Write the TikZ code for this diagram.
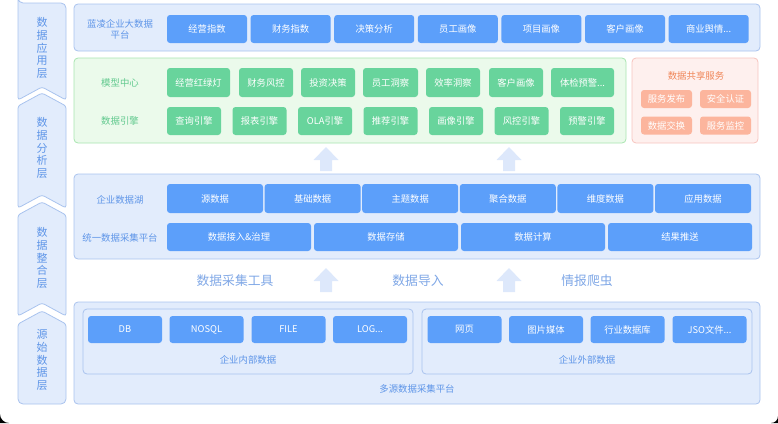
\documentclass[tikz,border=0pt]{standalone}
\usepackage{fontspec}
\setmainfont{Noto Sans CJK SC}
\definecolor{panelfill}{HTML}{E2ECFC}
\definecolor{panelline}{HTML}{A9C3EE}
\definecolor{btnblue}{HTML}{5C9FFA}
\definecolor{lblblue}{HTML}{5E95E8}
\definecolor{midblue}{HTML}{7FA7E6}
\definecolor{greenfill}{HTML}{EBFAEB}
\definecolor{greenline}{HTML}{A8E6B0}
\definecolor{btngreen}{HTML}{68D49C}
\definecolor{lblgreen}{HTML}{61C98E}
\definecolor{redfill}{HTML}{FEF0EE}
\definecolor{redline}{HTML}{F7C4BE}
\definecolor{btnred}{HTML}{FCB59D}
\definecolor{lblred}{HTML}{F0875A}
\definecolor{arrowblue}{HTML}{DDE8FB}
\tikzset{
  panel/.style={draw=panelline, fill=panelfill, rounded corners=4pt, inner sep=0pt, line width=0.8pt},
  gpanel/.style={draw=greenline, fill=greenfill, rounded corners=4pt, inner sep=0pt, line width=0.8pt},
  rpanel/.style={draw=redline, fill=redfill, rounded corners=4pt, inner sep=0pt, line width=0.8pt},
  btn/.style={fill=btnblue, rounded corners=3pt, inner sep=0pt, text=white, font=\fontsize{9.3}{11}\selectfont},
  gbtn/.style={btn, fill=btngreen},
  rbtn/.style={btn, fill=btnred, minimum width=51pt, minimum height=18pt},
  lbl/.style={text=lblblue, align=center, font=\fontsize{9.4}{11}\selectfont},
  glbl/.style={lbl, text=lblgreen},
  midlbl/.style={text=midblue, font=\fontsize{12.8}{14}\selectfont},
  tab/.style={draw=panelline, fill=panelfill, line width=0.8pt, rounded corners=2.5pt},
  tablbl/.style={text=lblblue, align=center, font=\fontsize{11}{12.8}\selectfont},
  uparrow/.style={fill=arrowblue}
}
\begin{document}
\begin{tikzpicture}[x=1pt,y=-1pt]
\useasboundingbox (0,0) rectangle (778,423);
% dark window corners at the bottom
\fill[black] (0,414) .. controls (0,419) and (4,423) .. (9,423) -- (0,423) -- cycle;
\fill[black] (778,416) .. controls (778,420) and (775,423) .. (771,423) -- (778,423) -- cycle;
% layer tabs on the left
\draw[tab] (18,100) -- (18,3) [rounded corners=5pt] -- (18,3) -- (66,3) [rounded corners=2.5pt] -- (66,100) -- (42,87) -- cycle;
\draw[tab] (18,106) -- (42,93) -- (66,106) -- (66,208) -- (42,195) -- (18,208) -- cycle;
\draw[tab] (18,215) -- (42,202) -- (66,215) -- (66,316) -- (42,303) -- (18,316) -- cycle;
\draw[tab] (18,324) -- (42,311) -- (66,324) [rounded corners=5pt] -- (66,404) -- (18,404) [rounded corners=2.5pt] -- cycle;
\node[tablbl] (t1) at (42,48) {数\\据\\应\\用\\层};
\node[tablbl] (t2) at (42,148) {数\\据\\分\\析\\层};
\node[tablbl] (t3) at (42,258) {数\\据\\整\\合\\层};
\node[tablbl] (t4) at (42,360) {源\\始\\数\\据\\层};
% application layer
\node[panel, minimum width=686pt, minimum height=47pt] (app) at (417,27.5) {};
\node[lbl] (appname) at (120,29) {蓝凌企业大数据\\平台};
\node[btn, minimum width=80pt, minimum height=28pt] (a1) at (207,29) {经营指数};
\node[btn, minimum width=80pt, minimum height=28pt] (a2) at (290.6,29) {财务指数};
\node[btn, minimum width=80pt, minimum height=28pt] (a3) at (374.2,29) {决策分析};
\node[btn, minimum width=80pt, minimum height=28pt] (a4) at (457.8,29) {员工画像};
\node[btn, minimum width=80pt, minimum height=28pt] (a5) at (541.4,29) {项目画像};
\node[btn, minimum width=80pt, minimum height=28pt] (a6) at (625,29) {客户画像};
\node[btn, minimum width=80pt, minimum height=28pt] (a7) at (708.6,29) {商业舆情...};
% analysis layer
\node[gpanel, minimum width=552pt, minimum height=85pt] (ana) at (350,100.5) {};
\node[glbl] (model) at (120,83) {模型中心};
\node[glbl] (engine) at (120,121) {数据引擎};
\node[gbtn, minimum width=63pt, minimum height=29pt] (m1) at (198.5,82.5) {经营红绿灯};
\node[gbtn, minimum width=54pt, minimum height=29pt] (m2) at (266,82.5) {财务风控};
\node[gbtn, minimum width=54pt, minimum height=29pt] (m3) at (328,82.5) {投资决策};
\node[gbtn, minimum width=55pt, minimum height=29pt] (m4) at (390.5,82.5) {员工洞察};
\node[gbtn, minimum width=54pt, minimum height=29pt] (m5) at (453,82.5) {效率洞察};
\node[gbtn, minimum width=54pt, minimum height=29pt] (m6) at (516,82.5) {客户画像};
\node[gbtn, minimum width=63pt, minimum height=29pt] (m7) at (582.5,82.5) {体检预警...};
\node[gbtn, minimum width=54pt, minimum height=28pt] (e1) at (194,121) {查询引擎};
\node[gbtn, minimum width=54pt, minimum height=28pt] (e2) at (259.5,121) {报表引擎};
\node[gbtn, minimum width=54pt, minimum height=28pt] (e3) at (325,121) {OLA引擎};
\node[gbtn, minimum width=54pt, minimum height=28pt] (e4) at (390.5,121) {推荐引擎};
\node[gbtn, minimum width=54pt, minimum height=28pt] (e5) at (456,121) {画像引擎};
\node[gbtn, minimum width=54pt, minimum height=28pt] (e6) at (521.5,121) {风控引擎};
\node[gbtn, minimum width=54pt, minimum height=28pt] (e7) at (587,121) {预警引擎};
% sharing services
\node[rpanel, minimum width=126pt, minimum height=85pt] (share) at (695,100.5) {};
\node[lbl, text=lblred] (sharename) at (696,76) {数据共享服务};
\node[rbtn] (s1) at (666.5,99) {服务发布};
\node[rbtn] (s2) at (725.5,99) {安全认证};
\node[rbtn] (s3) at (666.5,125.5) {数据交换};
\node[rbtn] (s4) at (725.5,125.5) {服务监控};
% arrows up
\fill[uparrow] (326,147) -- (338.5,160) -- (332,160) -- (332,171) -- (320,171) -- (320,160) -- (313.5,160) -- cycle;
\fill[uparrow] (509,147) -- (521.5,160) -- (515,160) -- (515,171) -- (503,171) -- (503,160) -- (496.5,160) -- cycle;
% integration layer
\node[panel, minimum width=686pt, minimum height=85pt] (lake) at (417,216.5) {};
\node[lbl] (lakename) at (120,200) {企业数据湖};
\node[lbl] (collect) at (120,238) {统一数据采集平台};
\node[btn, minimum width=96pt, minimum height=29pt] (d1) at (215,198.5) {源数据};
\node[btn, minimum width=96pt, minimum height=29pt] (d2) at (312.6,198.5) {基础数据};
\node[btn, minimum width=96pt, minimum height=29pt] (d3) at (410.2,198.5) {主题数据};
\node[btn, minimum width=96pt, minimum height=29pt] (d4) at (507.8,198.5) {聚合数据};
\node[btn, minimum width=96pt, minimum height=29pt] (d5) at (605.4,198.5) {维度数据};
\node[btn, minimum width=96pt, minimum height=29pt] (d6) at (703,198.5) {应用数据};
\node[btn, minimum width=144pt, minimum height=28pt] (c1) at (239,237) {数据接入\&治理};
\node[btn, minimum width=144pt, minimum height=28pt] (c2) at (386,237) {数据存储};
\node[btn, minimum width=144pt, minimum height=28pt] (c3) at (533,237) {数据计算};
\node[btn, minimum width=144pt, minimum height=28pt] (c4) at (680,237) {结果推送};
\node[midlbl] (tool) at (235,281) {数据采集工具};
\node[midlbl] (import) at (418,281) {数据导入};
\node[midlbl] (crawl) at (587,281) {情报爬虫};
\fill[uparrow] (326,268) -- (338.5,281) -- (332,281) -- (332,292) -- (320,292) -- (320,281) -- (313.5,281) -- cycle;
\fill[uparrow] (509,268) -- (521.5,281) -- (515,281) -- (515,292) -- (503,292) -- (503,281) -- (496.5,281) -- cycle;
% source layer
\node[panel, minimum width=686pt, minimum height=102pt] (src) at (417,353) {};
\node[panel, minimum width=330pt, minimum height=65pt] (inner) at (248,341.5) {};
\node[panel, minimum width=330pt, minimum height=65pt] (outer) at (587,341.5) {};
\node[btn, minimum width=74pt, minimum height=27pt] (i1) at (125,329.5) {DB};
\node[btn, minimum width=74pt, minimum height=27pt] (i2) at (206.5,329.5) {NOSQL};
\node[btn, minimum width=74pt, minimum height=27pt] (i3) at (288.5,329.5) {FILE};
\node[btn, minimum width=74pt, minimum height=27pt] (i4) at (370,329.5) {LOG...};
\node[btn, minimum width=74pt, minimum height=27pt] (o1) at (464.5,329.5) {网页};
\node[btn, minimum width=74pt, minimum height=27pt] (o2) at (546,329.5) {图片媒体};
\node[btn, minimum width=74pt, minimum height=27pt] (o3) at (627.5,329.5) {行业数据库};
\node[btn, minimum width=74pt, minimum height=27pt] (o4) at (709.5,329.5) {JSO文件...};
\node[lbl] (innername) at (248,360) {企业内部数据};
\node[lbl] (outername) at (587,360) {企业外部数据};
\node[lbl] (srcname) at (417,389) {多源数据采集平台};
\end{tikzpicture}
\end{document}
